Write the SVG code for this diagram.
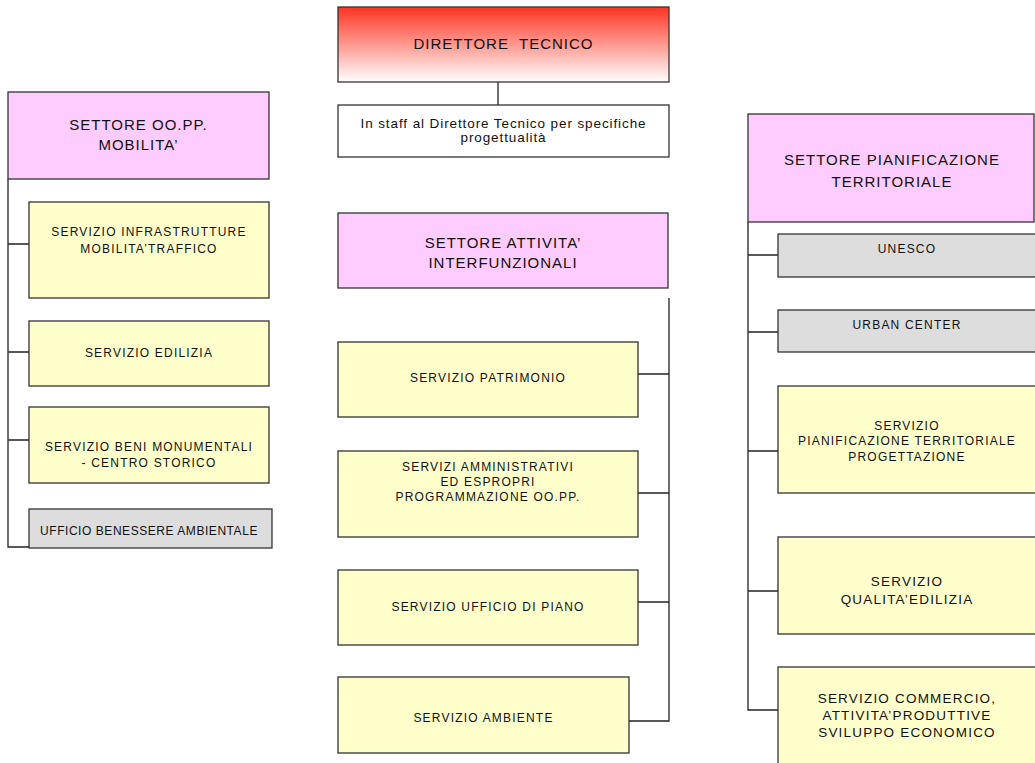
<svg xmlns="http://www.w3.org/2000/svg" width="1035" height="763" viewBox="0 0 1035 763">
<defs>
<linearGradient id="red" x1="0" y1="0" x2="0" y2="1">
<stop offset="0" stop-color="#ff3322"/>
<stop offset="1" stop-color="#ffffff"/>
</linearGradient>
<style>
rect{stroke:#333;stroke-width:1.3}
.pink{fill:#ffccff}
.yel{fill:#ffffcc}
.grey{fill:#dddddd}
.wht{fill:#ffffff}
text{font-family:"Liberation Sans",Arial,sans-serif;fill:#111;text-anchor:middle;white-space:pre}
.big{font-size:15px;letter-spacing:1px}
.sm{font-size:12px;letter-spacing:1.2px}
.md{font-size:13.5px;letter-spacing:1.2px}
.staff{font-size:13.5px;letter-spacing:0.9px}
#conn path{fill:none;stroke:#222;stroke-width:1.3}
</style>
</defs>
<rect width="1035" height="763" fill="#fff" style="stroke:none"/>
<g id="conn">
<path d="M498 82V105"/>
<path d="M8 179V547H29M8 244H29M8 352H29M8 440H29"/>
<path d="M669 298V721H629M638 374H669M638 493H669M638 602H669"/>
<path d="M748 222V710H778M748 255H778M748 332H778M748 451H778M748 591H778"/>
</g>
<g id="director"><rect x="338" y="7" width="331" height="75" fill="url(#red)"/><text class="big" x="503.5" y="49" xml:space="preserve">DIRETTORE  TECNICO</text></g>
<g id="staff"><rect class="wht" x="338" y="105" width="331" height="52"/><text class="staff" x="503.5" y="128">In staff al Direttore Tecnico per specifiche</text><text class="staff" x="503.5" y="142">progettualità</text></g>
<g id="settore-oopp"><rect class="pink" x="8" y="92" width="261" height="87"/><text class="big" x="138.5" y="130">SETTORE OO.PP.</text><text class="big" x="138.5" y="150">MOBILITA’</text></g>
<g id="infrastrutture"><rect class="yel" x="29" y="202" width="240" height="96"/><text class="sm" x="149" y="236">SERVIZIO INFRASTRUTTURE</text><text class="sm" x="149" y="253">MOBILITA’TRAFFICO</text></g>
<g id="edilizia"><rect class="yel" x="29" y="321" width="240" height="65"/><text class="sm" x="149" y="357">SERVIZIO EDILIZIA</text></g>
<g id="beni"><rect class="yel" x="29" y="407" width="240" height="76"/><text class="sm" x="149" y="451">SERVIZIO BENI MONUMENTALI</text><text class="sm" x="149" y="467">- CENTRO STORICO</text></g>
<g id="benessere"><rect class="grey" x="29" y="509" width="243" height="39"/><text class="sm" x="149" y="535" style="letter-spacing:0.55px">UFFICIO BENESSERE AMBIENTALE</text></g>
<g id="settore-attivita"><rect class="pink" x="338" y="213" width="330" height="75"/><text class="big" x="503" y="248">SETTORE ATTIVITA’</text><text class="big" x="503" y="268">INTERFUNZIONALI</text></g>
<g id="patrimonio"><rect class="yel" x="338" y="342" width="300" height="75"/><text class="sm" x="488" y="382">SERVIZIO PATRIMONIO</text></g>
<g id="amministrativi"><rect class="yel" x="338" y="451" width="300" height="86"/><text class="sm" x="488" y="471">SERVIZI AMMINISTRATIVI</text><text class="sm" x="488" y="486">ED ESPROPRI</text><text class="sm" x="488" y="501">PROGRAMMAZIONE OO.PP.</text></g>
<g id="piano"><rect class="yel" x="338" y="570" width="300" height="75"/><text class="sm" x="488" y="611">SERVIZIO UFFICIO DI PIANO</text></g>
<g id="ambiente"><rect class="yel" x="338" y="677" width="291" height="76"/><text class="sm" x="483.5" y="722">SERVIZIO AMBIENTE</text></g>
<g id="settore-pianificazione"><rect class="pink" x="748" y="114" width="286" height="108"/><text class="big" x="892" y="165">SETTORE PIANIFICAZIONE</text><text class="big" x="892" y="187">TERRITORIALE</text></g>
<g id="unesco"><rect class="grey" x="778" y="234" width="270" height="43"/><text class="sm" x="907" y="253">UNESCO</text></g>
<g id="urban"><rect class="grey" x="778" y="310" width="270" height="42"/><text class="sm" x="907" y="329">URBAN CENTER</text></g>
<g id="pianificazione"><rect class="yel" x="778" y="386" width="270" height="107"/><text class="sm" x="907" y="430">SERVIZIO</text><text class="sm" x="907" y="445">PIANIFICAZIONE TERRITORIALE</text><text class="sm" x="907" y="461">PROGETTAZIONE</text></g>
<g id="qualita"><rect class="yel" x="778" y="537" width="270" height="97"/><text class="md" x="907" y="586">SERVIZIO</text><text class="md" x="907" y="604">QUALITA’EDILIZIA</text></g>
<g id="commercio"><rect class="yel" x="778" y="667" width="270" height="110"/><text class="md" x="907" y="703">SERVIZIO COMMERCIO,</text><text class="md" x="907" y="720">ATTIVITA’PRODUTTIVE</text><text class="md" x="907" y="737">SVILUPPO ECONOMICO</text></g>
</svg>
